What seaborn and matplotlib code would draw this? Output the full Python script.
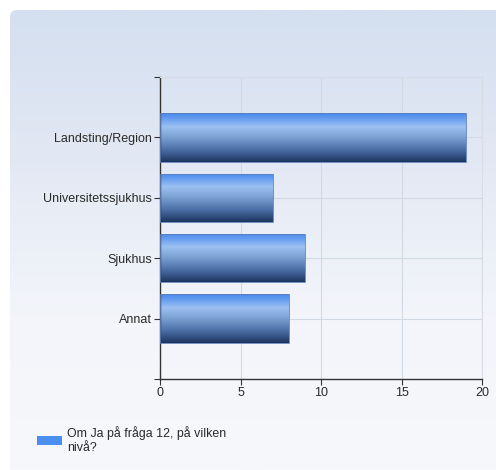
import numpy as np
import pandas as pd
import matplotlib
matplotlib.use("Agg")
import matplotlib.pyplot as plt
from matplotlib.patches import FancyBboxPatch, Rectangle
from matplotlib.colors import LinearSegmentedColormap
import seaborn as sns

# Survey answers
categories = ["Landsting/Region", "Universitetssjukhus", "Sjukhus", "Annat"]
counts = [19, 7, 9, 8]
series_label = "Om Ja på fråga 12, på vilken\nnivå?"
x_ticks = [0, 5, 10, 15, 20]

df = pd.DataFrame({"Nivå": categories, "Antal": counts})

sns.set_theme(style="white")
plt.rcParams["font.family"] = ["Liberation Sans", "DejaVu Sans"]

W, H = 496, 470
fig = plt.figure(figsize=(W / 100, H / 100), dpi=100)
fig.patch.set_facecolor("white")

# Rounded panel with a soft vertical gradient behind the chart
bg = fig.add_axes([0, 0, 1, 1], zorder=0)
bg.set_xlim(0, W)
bg.set_ylim(H, 0)
bg.axis("off")
panel = FancyBboxPatch((10, 10), W + 20, H + 20,
                       boxstyle="round,pad=0,rounding_size=7",
                       facecolor="none", edgecolor="none")
bg.add_patch(panel)
panel_cmap = LinearSegmentedColormap.from_list(
    "panel", ["#d4dff0", "#e3e9f4", "#f3f5fa", "#f7f8fb"])
grad = np.linspace(0, 1, 256).reshape(-1, 1)
im = bg.imshow(grad, cmap=panel_cmap, extent=[10, W, H, 10],
               aspect="auto", origin="upper")
im.set_clip_path(panel)

# Plot area
left, right, top, bottom = 160, 482, 77, 379
ax = fig.add_axes([left / W, 1 - bottom / H, (right - left) / W, (bottom - top) / H],
                  zorder=1)
ax.patch.set_alpha(0)

sns.barplot(data=df, x="Antal", y="Nivå", orient="h", width=0.8,
            color="#4a8ef0", ax=ax, zorder=3)

ax.set_xticks(x_ticks)
ax.set_xticklabels([str(t) for t in x_ticks])
ax.set_yticks(range(len(categories)))
ax.set_yticklabels(categories)
ax.set_yticks([-1, len(categories)], minor=True)
ax.set_xlabel("")
ax.set_ylabel("")

ax.grid(True, which="major", color="#d3d9e2", linewidth=0.8, zorder=0)
for side in ["top", "right"]:
    ax.spines[side].set_visible(True)
    ax.spines[side].set_color("#d8dde5")
    ax.spines[side].set_linewidth(0.8)
for side in ["left", "bottom"]:
    ax.spines[side].set_color("#333333")
    ax.spines[side].set_linewidth(1.0)

ax.tick_params(axis="both", which="both", direction="out", length=4,
               width=0.8, color="#333333", labelsize=9, labelcolor="#2a2a2a",
               pad=1.5)
ax.tick_params(axis="x", which="both", bottom=True)
ax.tick_params(axis="y", which="both", left=True)

# Glossy vertical gradient on every bar
bar_cmap = LinearSegmentedColormap.from_list(
    "bar", [(0.0, "#4a88e8"), (0.08, "#5b97ee"), (0.28, "#9dc0f2"),
            (0.5, "#7c9fd2"), (0.75, "#4b6ea6"), (1.0, "#1c355f")])
bar_grad = np.linspace(0, 1, 256).reshape(-1, 1)
for patch in list(ax.patches):
    x0, y0 = patch.get_x(), patch.get_y()
    w, h = patch.get_width(), patch.get_height()
    patch.set_facecolor("none")
    patch.set_edgecolor("#5d80b8")
    patch.set_linewidth(0.6)
    gim = ax.imshow(bar_grad, cmap=bar_cmap, aspect="auto",
                    extent=[x0, x0 + w, y0 + h, y0], origin="upper", zorder=2.5)
    gim.set_clip_path(Rectangle((x0, y0), w, h, transform=ax.transData))

ax.set_xlim(0, 20)
ax.set_ylim(len(categories), -1)

# Legend below the plot
handle = Rectangle((0, 0), 1, 1, facecolor="#4a8ef0", edgecolor="none")
fig.legend([handle], [series_label], loc="upper left",
           bbox_to_anchor=(26 / W, 1 - 415 / H), frameon=False,
           fontsize=8.9, handlelength=2.0, handleheight=0.75, handletextpad=0.45,
           labelspacing=0.2, labelcolor="#2a2a2a")

fig.savefig("out.png", dpi=100, facecolor="white")
